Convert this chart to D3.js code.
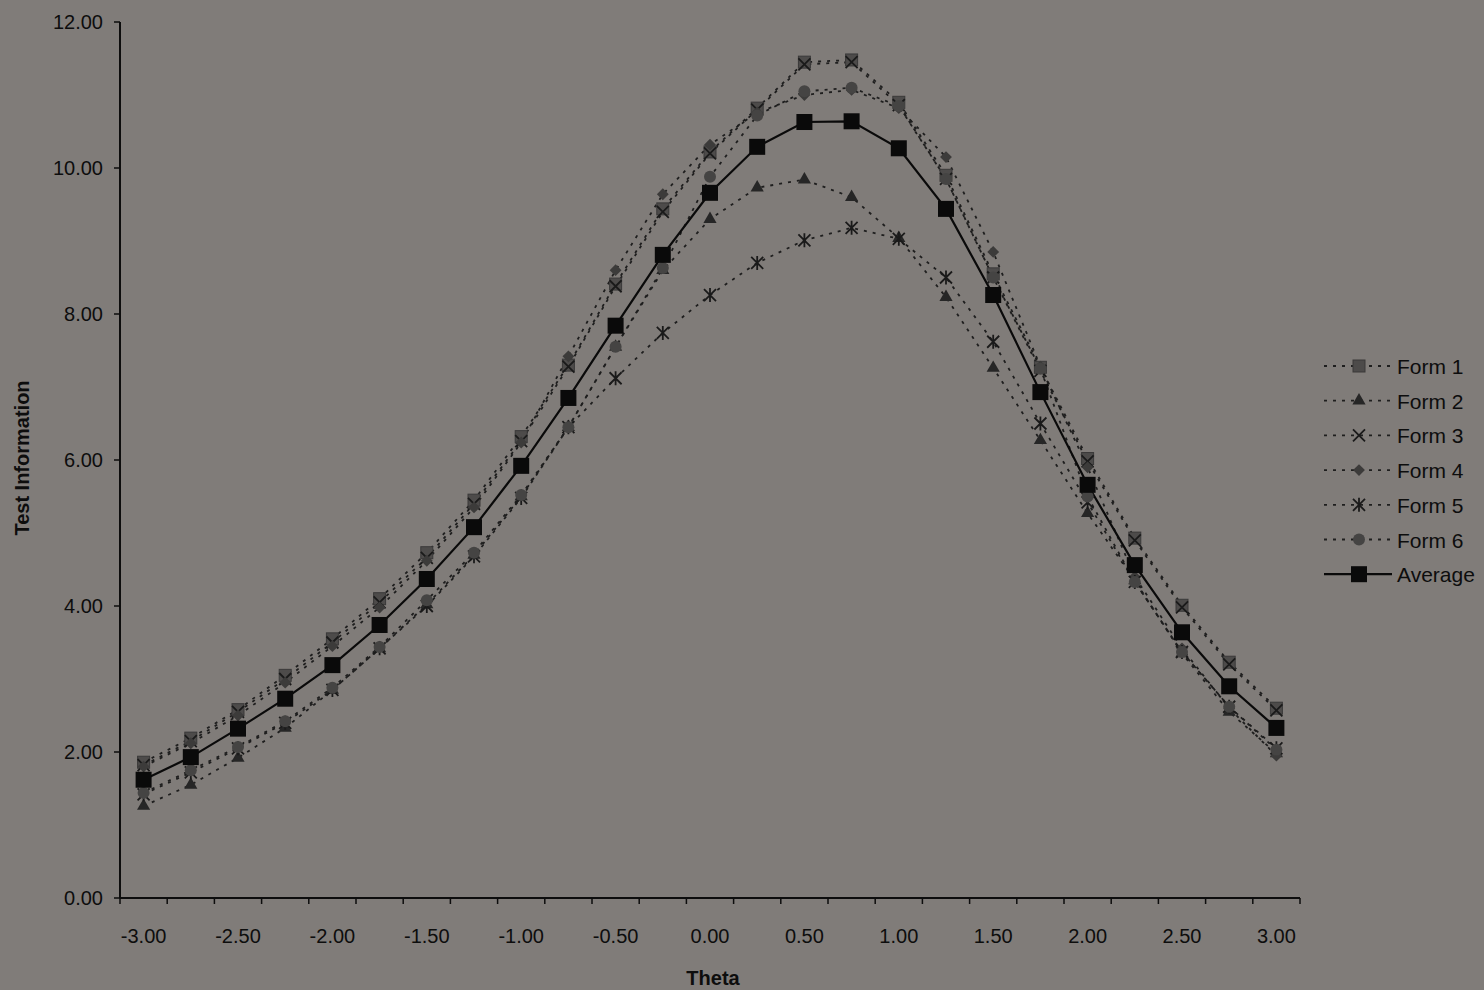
<!DOCTYPE html>
<html>
<head>
<meta charset="utf-8">
<script src="https://cdn.jsdelivr.net/npm/d3@7"></script>
<style>
  body { margin: 0; background: #807c79; }
  svg { display: block; font-family: "Liberation Sans", Arial, sans-serif; }
</style>
</head>
<body>
<svg id="chart" width="1484" height="990"></svg>
<script>
// categories (theta)
const theta = ["-3.00","-2.75","-2.50","-2.25","-2.00","-1.75","-1.50","-1.25","-1.00","-0.75","-0.50","-0.25",
               "0.00","0.25","0.50","0.75","1.00","1.25","1.50","1.75","2.00","2.25","2.50","2.75","3.00"];

const form1 = [1.86,2.19,2.58,3.05,3.55,4.10,4.73,5.45,6.32,7.30,8.41,9.44,10.22,10.82,11.45,11.48,10.90,9.90,8.55,7.27,6.02,4.93,4.01,3.23,2.60];
const form2 = [1.26,1.55,1.92,2.33,2.85,3.42,4.02,4.70,5.50,6.45,7.55,8.60,9.30,9.73,9.84,9.60,9.04,8.23,7.26,6.27,5.27,4.35,3.35,2.55,1.98];
const form3 = [1.82,2.15,2.55,3.00,3.50,4.05,4.66,5.40,6.26,7.28,8.38,9.40,10.20,10.80,11.42,11.45,10.86,9.85,8.50,7.22,5.98,4.90,3.98,3.20,2.57];
const form4 = [1.80,2.12,2.50,2.95,3.45,3.98,4.62,5.35,6.24,7.42,8.60,9.64,10.32,10.76,11.00,11.07,10.82,10.15,8.85,7.28,5.90,4.40,3.42,2.60,1.95];
const form5 = [1.42,1.72,2.05,2.40,2.85,3.42,4.00,4.68,5.48,6.45,7.12,7.74,8.26,8.70,9.01,9.18,9.03,8.50,7.62,6.50,5.42,4.33,3.37,2.62,2.05];
const form6 = [1.44,1.75,2.07,2.42,2.88,3.44,4.08,4.73,5.52,6.45,7.55,8.63,9.88,10.72,11.05,11.10,10.85,9.85,8.50,7.25,5.50,4.33,3.37,2.62,2.03];
const average = [1.62,1.93,2.32,2.73,3.19,3.74,4.37,5.08,5.92,6.85,7.84,8.81,9.66,10.29,10.63,10.64,10.27,9.44,8.26,6.93,5.66,4.56,3.64,2.90,2.33];

const yTicks = [0,2,4,6,8,10,12];
const xLabels = ["-3.00","-2.50","-2.00","-1.50","-1.00","-0.50","0.00","0.50","1.00","1.50","2.00","2.50","3.00"];

const seriesNames = ["Form 1","Form 2","Form 3","Form 4","Form 5","Form 6","Average"];
const seriesValues = [form1, form2, form3, form4, form5, form6, average];
const seriesSymbols = ["square","triangle","x","diamond","asterisk","circle","bigsquare"];

const svg = d3.select("#chart");
const plotLeft = 120, plotRight = 1300, plotTop = 22, plotBottom = 898;
const ink = "#0d0d0d";

const x = d3.scaleBand().domain(theta).range([plotLeft, plotRight]).padding(0);
const y = d3.scaleLinear().domain([0, 12]).range([plotBottom, plotTop]);
const cx = d => x(d) + x.bandwidth() / 2;

// axes
svg.append("line").attr("x1", plotLeft).attr("x2", plotLeft).attr("y1", plotTop).attr("y2", plotBottom)
   .attr("stroke", ink).attr("stroke-width", 2);
svg.append("line").attr("x1", plotLeft).attr("x2", plotRight).attr("y1", plotBottom).attr("y2", plotBottom)
   .attr("stroke", ink).attr("stroke-width", 2);

svg.selectAll(".ytick").data(yTicks).enter().append("line")
   .attr("x1", plotLeft - 6).attr("x2", plotLeft).attr("y1", d => y(d)).attr("y2", d => y(d))
   .attr("stroke", ink).attr("stroke-width", 1.5);
svg.selectAll(".ylab").data(yTicks).enter().append("text")
   .attr("x", 103).attr("y", d => y(d) + 7)
   .attr("text-anchor", "end").style("font-size", "20px").style("fill", ink)
   .text(d => d3.format(".2f")(d));

const bounds = theta.map(d => x(d)).concat([plotRight]);
svg.selectAll(".xtick").data(bounds).enter().append("line")
   .attr("x1", d => d).attr("x2", d => d).attr("y1", plotBottom).attr("y2", plotBottom + 6)
   .attr("stroke", ink).attr("stroke-width", 1.5);
svg.selectAll(".xlab").data(xLabels).enter().append("text")
   .attr("x", d => cx(d)).attr("y", 943)
   .attr("text-anchor", "middle").style("font-size", "20px").style("fill", ink)
   .text(d => d);

svg.append("text").attr("x", 713).attr("y", 985).attr("text-anchor", "middle")
   .style("font-size", "20px").style("font-weight", "bold").style("fill", ink).text("Theta");
svg.append("text").attr("transform", "translate(29,458) rotate(-90)").attr("text-anchor", "middle")
   .style("font-size", "20px").style("font-weight", "bold").style("fill", ink).text("Test Information");

// marker drawing
function drawMarker(g, type, px, py) {
  if (type === "square") {
    g.append("rect").attr("x", px - 6).attr("y", py - 6).attr("width", 12).attr("height", 12)
     .attr("fill", "#4d4b4a").attr("stroke", "#3a3939").attr("stroke-width", 1);
  } else if (type === "bigsquare") {
    g.append("rect").attr("x", px - 8).attr("y", py - 8).attr("width", 16).attr("height", 16)
     .attr("fill", "#0a0a0a");
  } else if (type === "triangle") {
    g.append("path").attr("d", d3.symbol(d3.symbolTriangle, 75)()).attr("transform", `translate(${px},${py})`)
     .attr("fill", "#262626");
  } else if (type === "diamond") {
    g.append("path").attr("d", d3.symbol(d3.symbolSquare, 70)()).attr("transform", `translate(${px},${py}) rotate(45)`)
     .attr("fill", "#3c3b3a");
  } else if (type === "circle") {
    g.append("circle").attr("cx", px).attr("cy", py).attr("r", 6).attr("fill", "#454443");
  } else if (type === "x") {
    g.append("path").attr("d", `M${px-6},${py-6}L${px+6},${py+6}M${px-6},${py+6}L${px+6},${py-6}`)
     .attr("stroke", "#1a1a1a").attr("stroke-width", 1.8);
  } else if (type === "asterisk") {
    g.append("path").attr("d", `M${px-6},${py-6}L${px+6},${py+6}M${px-6},${py+6}L${px+6},${py-6}M${px},${py-7}L${px},${py+7}`)
     .attr("stroke", "#1a1a1a").attr("stroke-width", 1.8);
  }
}

const line = d3.line().x((d, i) => cx(theta[i])).y(d => y(d));

seriesValues.forEach((vals, s) => {
  const isAvg = seriesNames[s] === "Average";
  svg.append("path").datum(vals).attr("d", line).attr("fill", "none")
     .attr("stroke", isAvg ? "#0a0a0a" : "#1e1e1e")
     .attr("stroke-width", isAvg ? 2.2 : 1.8)
     .attr("stroke-dasharray", isAvg ? null : "3,6");
});
seriesValues.forEach((vals, s) => {
  const g = svg.append("g");
  vals.forEach((v, i) => drawMarker(g, seriesSymbols[s], cx(theta[i]), y(v)));
});

// legend
const legend = svg.append("g");
seriesNames.forEach((name, i) => {
  const ly = 366 + i * 34.7;
  const isAvg = name === "Average";
  legend.append("line").attr("x1", 1324).attr("x2", 1392).attr("y1", ly).attr("y2", ly)
     .attr("stroke", isAvg ? "#0a0a0a" : "#1e1e1e").attr("stroke-width", isAvg ? 2.2 : 1.8)
     .attr("stroke-dasharray", isAvg ? null : "3,6");
  drawMarker(legend, seriesSymbols[i], 1359, ly);
  legend.append("text").attr("x", 1397).attr("y", ly + 8).style("font-size", "21px").style("fill", ink)
     .text(name);
});
</script>
</body>
</html>
